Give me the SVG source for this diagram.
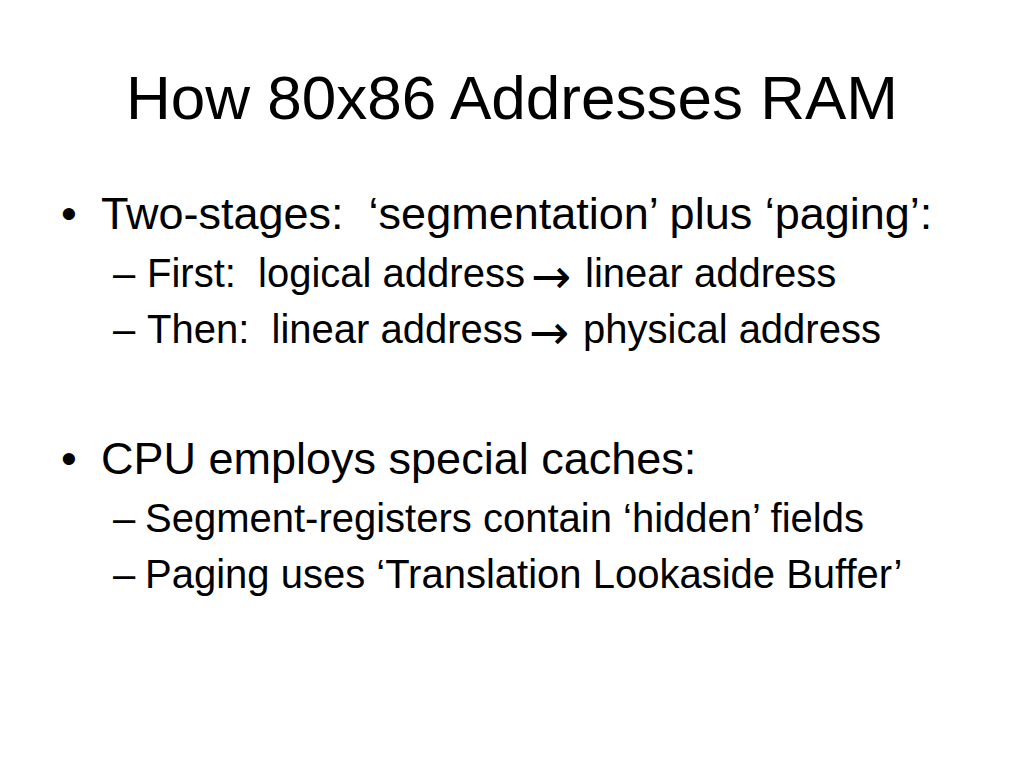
<svg xmlns="http://www.w3.org/2000/svg" width="1024" height="768" viewBox="0 0 1024 768">
<style>
text{font-family:"Liberation Sans",Arial,sans-serif;fill:#000;white-space:pre}
.title{font-size:62px}
.l1{font-size:45px}
.l2{font-size:40px}
.arr{font-family:"DejaVu Sans",sans-serif;font-size:48px}
</style>
<rect width="1024" height="768" fill="#fff"/>
<g id="title"><text class="title" x="512" y="119" text-anchor="middle">How 80x86 Addresses RAM</text></g>
<g id="bullet1">
<text class="l1" x="61" y="229">•</text>
<text class="l1" x="101" y="229" xml:space="preserve">Two-stages:  ‘segmentation’ plus ‘paging’:</text>
</g>
<g id="sub1">
<text class="l2" x="113" y="287">–</text>
<text class="l2" y="287" xml:space="preserve"><tspan x="147">First:  logical address</tspan><tspan class="arr" x="531" dy="6">→</tspan><tspan x="585" dy="-6">linear address</tspan></text>
</g>
<g id="sub2">
<text class="l2" x="113" y="343">–</text>
<text class="l2" y="343" xml:space="preserve"><tspan x="147">Then:  linear address</tspan><tspan class="arr" x="529" dy="6">→</tspan><tspan x="583" dy="-6">physical address</tspan></text>
</g>
<g id="bullet2">
<text class="l1" x="61" y="474">•</text>
<text class="l1" x="101" y="474">CPU employs special caches:</text>
</g>
<g id="sub3">
<text class="l2" x="113" y="532">–</text>
<text class="l2" x="145" y="532">Segment-registers contain ‘hidden’ fields</text>
</g>
<g id="sub4">
<text class="l2" x="113" y="588">–</text>
<text class="l2" x="145" y="588">Paging uses ‘Translation Lookaside Buffer’</text>
</g>
</svg>
